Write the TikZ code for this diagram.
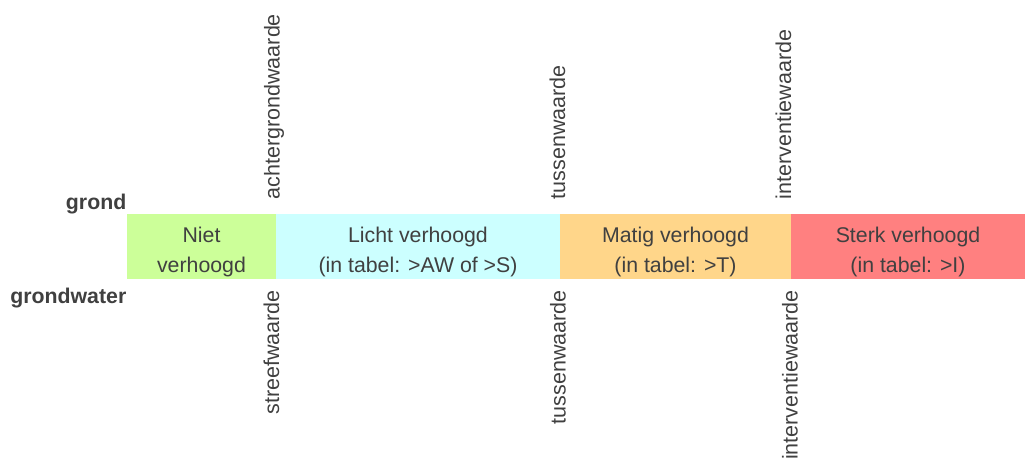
\documentclass[tikz,border=0pt]{standalone}
\usepackage{fontspec}
\setmainfont{Liberation Sans}
\definecolor{txt}{HTML}{404040}
\definecolor{cgreen}{HTML}{CCFF99}
\definecolor{ccyan}{HTML}{CCFFFF}
\definecolor{corange}{HTML}{FFD68A}
\definecolor{cred}{HTML}{FF8080}
\begin{document}
\begin{tikzpicture}[x=1pt,y=-1pt,
  seg/.style={rectangle, inner sep=0pt, outer sep=0pt, minimum height=65.5pt, anchor=north west},
  lbl/.style={text=txt, font=\fontsize{21.3}{25}\selectfont, inner sep=0pt, anchor=base},
  vlabup/.style={text=txt, font=\fontsize{21.5}{25}\selectfont, inner sep=0pt, rotate=90, anchor=base west},
  vlabdn/.style={text=txt, font=\fontsize{21.5}{25}\selectfont, inner sep=0pt, rotate=90, anchor=base east},
  side/.style={text=txt, font=\fontsize{21.3}{25}\selectfont\bfseries, inner sep=0pt, anchor=base east}]
\useasboundingbox (0,0) rectangle (1025,460);
% bar segments
\node[seg, fill=cgreen, minimum width=149pt] (s1) at (127,213.5) {};
\node[seg, fill=ccyan, minimum width=284pt] (s2) at (276,213.5) {};
\node[seg, fill=corange, minimum width=231pt] (s3) at (560,213.5) {};
\node[seg, fill=cred, minimum width=234pt] (s4) at (791,213.5) {};
% bar texts
\node[lbl] (t1a) at (201.5,242.3) {Niet};
\node[lbl] (t1b) at (201.5,272.5) {verhoogd};
\node[lbl] (t2a) at (418,242.3) {Licht verhoogd};
\node[lbl] (t2b) at (418,272.5) {(in tabel: >AW of >S)};
\node[lbl] (t3a) at (675.5,242.3) {Matig verhoogd};
\node[lbl] (t3b) at (675.5,272.5) {(in tabel: >T)};
\node[lbl] (t4a) at (908,242.3) {Sterk verhoogd};
\node[lbl] (t4b) at (908,272.5) {(in tabel: >I)};
% side labels
\node[side] (grond) at (126.5,209) {grond};
\node[side] (grondwater) at (126.5,303.5) {grondwater};
% vertical labels above
\node[vlabup] (aw) at (279.5,199.5) {achtergrondwaarde};
\node[vlabup] (tw1) at (565,199.5) {tussenwaarde};
\node[vlabup] (iw1) at (791,199.5) {interventiewaarde};
% vertical labels below
\node[vlabdn] (sw) at (279,290) {streefwaarde};
\node[vlabdn] (tw2) at (565.5,290) {tussenwaarde};
\node[vlabdn] (iw2) at (797.5,290) {interventiewaarde};
\end{tikzpicture}
\end{document}
